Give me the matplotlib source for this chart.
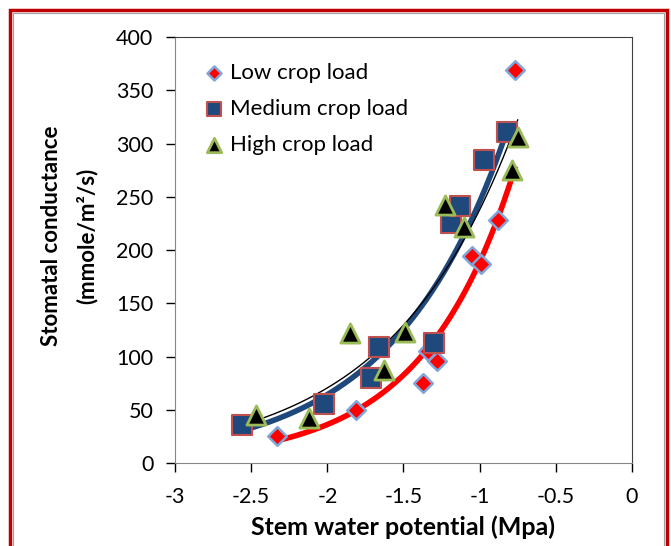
import matplotlib
matplotlib.use("Agg")
import matplotlib.pyplot as plt
import numpy as np
from matplotlib.patches import Rectangle

plt.rcParams['font.family'] = ['Lato', 'DejaVu Sans']

# data
low_x = [-2.33, -1.81, -1.37, -1.34, -1.28, -1.05, -0.99, -0.88, -0.77]
low_y = [25, 50, 75, 105, 96, 194, 187, 228, 369]
med_x = [-2.56, -2.02, -1.71, -1.66, -1.30, -1.19, -1.13, -0.97, -0.82]
med_y = [36, 55, 80, 109, 113, 225, 241, 285, 311]
high_x = [-2.47, -2.12, -1.85, -1.63, -1.49, -1.23, -1.10, -0.79, -0.75]
high_y = [45, 42, 122, 87, 123, 242, 222, 275, 306]

x_ticks = [-3, -2.5, -2, -1.5, -1, -0.5, 0]
x_tick_labels = ['-3', '-2.5', '-2', '-1.5', '-1', '-0.5', '0']
y_ticks = [0, 50, 100, 150, 200, 250, 300, 350, 400]


def exp_trend(x, y):
    # Excel-style exponential trendline: ln(y) linear in x
    a, b = np.polyfit(x, np.log(y), 1)
    xs = np.linspace(min(x), max(x), 200)
    return xs, np.exp(b) * np.exp(a * xs)


fig = plt.figure(figsize=(6.71, 5.46), dpi=100)
ax = fig.add_axes([0.2608, 0.152, 0.681, 0.78])

# trend lines
xs, ys = exp_trend(high_x, high_y)
ax.plot(xs, ys, color='white', lw=3, zorder=2)
ax.plot(xs, ys, color='black', lw=1, zorder=4)
xs, ys = exp_trend(med_x, med_y)
ax.plot(xs, ys, color='#1F497D', lw=4, zorder=3)
xs, ys = exp_trend(low_x, low_y)
ax.plot(xs, ys, color='#FF0000', lw=4, zorder=3)

# points
ax.scatter(low_x, low_y, marker='D', s=90, c='#FF0000', edgecolors='#7EA6DA',
           linewidths=1.8, zorder=5, label='Low crop load')
ax.scatter(med_x, med_y, marker='s', s=200, c='#1F497D', edgecolors='#C0504D',
           linewidths=1.5, zorder=5, label='Medium crop load')
ax.scatter(high_x, high_y, marker='^', s=190, c='black', edgecolors='#9BBB59',
           linewidths=2, zorder=6, label='High crop load')

ax.set_xlim(-3, 0)
ax.set_ylim(0, 400)
ax.set_xticks(x_ticks)
ax.set_xticklabels(x_tick_labels)
ax.set_yticks(y_ticks)
ax.tick_params(axis='both', labelsize=15.5, colors='black', length=6.5, width=1)
ax.tick_params(axis='x', pad=11)
ax.tick_params(axis='y', pad=9)
for t in ax.get_xticklines() + ax.get_yticklines():
    t.set_color('#868686')
ax.spines['left'].set_color('#868686')
ax.spines['bottom'].set_color('#868686')
ax.spines['top'].set_color('#404040')
ax.spines['right'].set_color('#404040')

# axis titles placed like the Excel chart
fig.text(403 / 671, 1 - 527 / 546, 'Stem water potential (Mpa)', fontsize=18,
         fontweight='bold', ha='center', va='center')
fig.text(52 / 671, 1 - 236 / 546, 'Stomatal conductance', fontsize=16,
         fontweight='bold', ha='center', va='center', rotation=90)
fig.text(87 / 671, 1 - 236 / 546, '(mmole/m²/s)', fontsize=16,
         fontweight='bold', ha='center', va='center', rotation=90)

ax.legend(loc='upper left', bbox_to_anchor=(0.066, 0.94), frameon=False,
          fontsize=16, handletextpad=0.3, labelspacing=0.72, borderaxespad=0,
          borderpad=0, handlelength=0.8, scatterpoints=1, markerscale=0.75)

# red frame around the figure
fig.patches.append(Rectangle((10 / 671, -0.1), 657 / 671, 1.1 - 10 / 546,
                             transform=fig.transFigure, fill=False,
                             edgecolor='#C00000', lw=2.5))
fig.patches.append(Rectangle((13 / 671, -0.1), 651 / 671, 1.1 - 13 / 546,
                             transform=fig.transFigure, fill=False,
                             edgecolor='#A0A0A0', lw=0.8))

fig.savefig('out.png', dpi=100)
